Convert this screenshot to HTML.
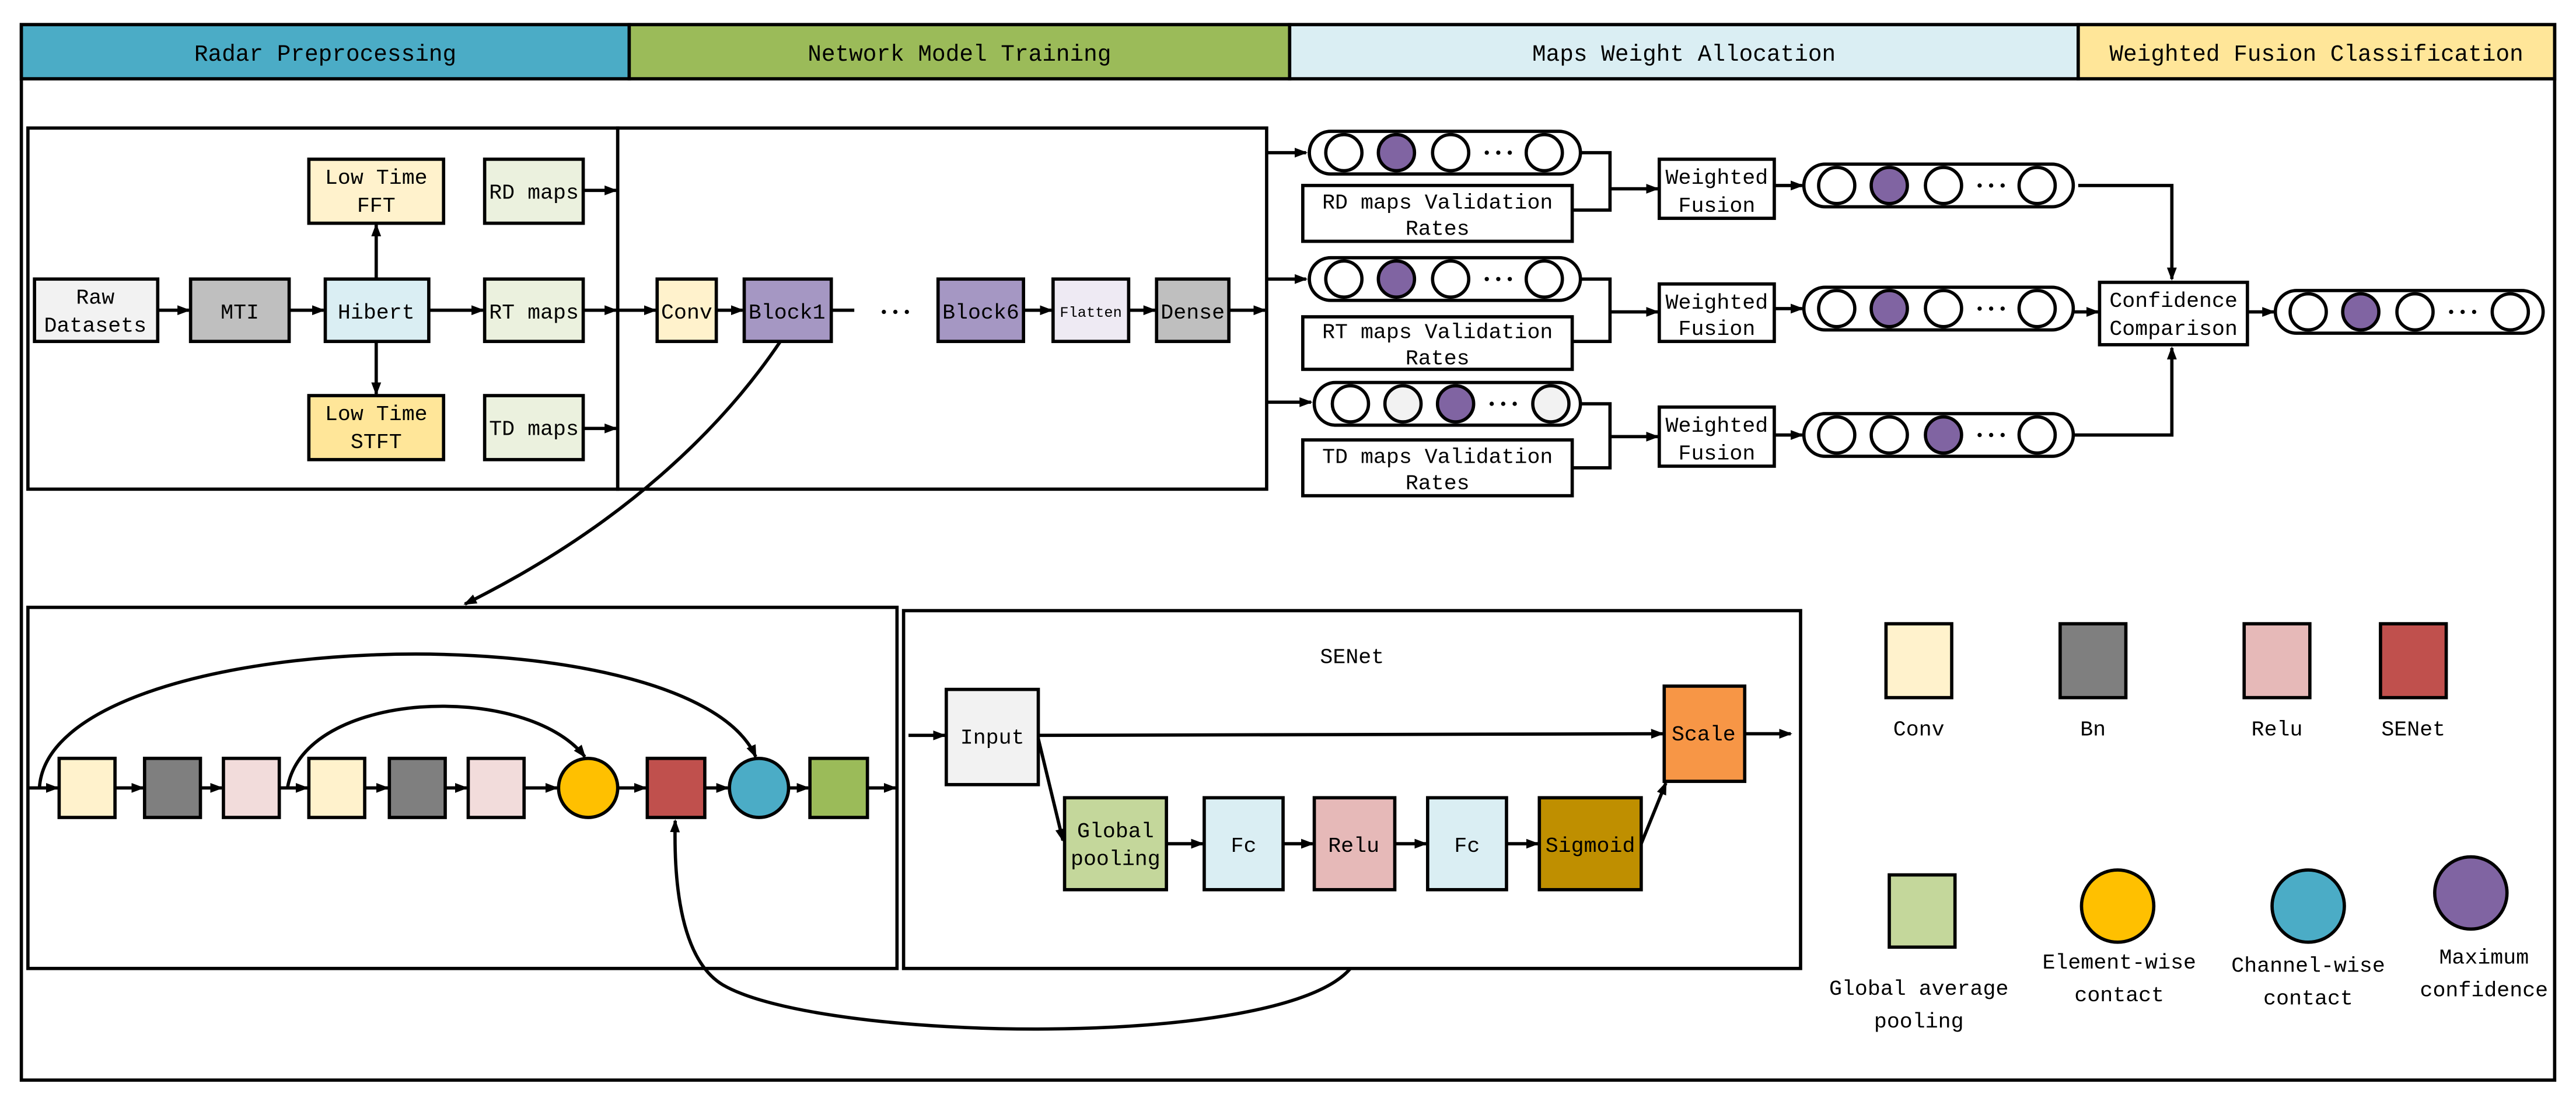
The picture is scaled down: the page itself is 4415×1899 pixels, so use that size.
<!DOCTYPE html>
<html><head><meta charset="utf-8"><style>html,body{margin:0;padding:0;background:#fff}svg{display:block}</style></head>
<body>
<svg width="4415" height="1899" viewBox="0 0 1568 675" preserveAspectRatio="none" xmlns="http://www.w3.org/2000/svg" font-family="'Liberation Mono','Noto Serif CJK SC',monospace" font-size="13" text-anchor="middle">
<defs>
<marker id="a" markerWidth="8" markerHeight="8" refX="7" refY="4" orient="auto" markerUnits="userSpaceOnUse"><path d="M0,1 L8,4 L0,7z" fill="#000"/></marker>
<g id="d"><circle cx="-7" cy="0" r="1.3"/><circle cx="0" cy="0" r="1.3"/><circle cx="7" cy="0" r="1.3"/></g>
</defs>
<rect x="0" y="0" width="1568" height="675" fill="#fff"/>
<g stroke="#000" stroke-width="2">
<rect x="13" y="15" width="1542" height="643" fill="none"/>
<rect x="13" y="15" width="370" height="33" fill="#4BACC6"/>
<rect x="383" y="15" width="402" height="33" fill="#9BBB59"/>
<rect x="785" y="15" width="480" height="33" fill="#DAEEF3"/>
<rect x="1265" y="15" width="290" height="33" fill="#FFE699"/>
<rect x="17" y="78" width="359" height="220" fill="none"/>
<rect x="376" y="78" width="395" height="220" fill="none"/>
<rect x="17" y="370" width="529" height="220" fill="none"/>
<rect x="550" y="372" width="546" height="218" fill="none"/>
</g>
<g font-size="14">
<text x="198" y="37">Radar Preprocessing</text>
<text x="584" y="37">Network Model Training</text>
<text x="1025" y="37">Maps Weight Allocation</text>
<text x="1410" y="37">Weighted Fusion Classification</text>
</g>
<g stroke="#000" stroke-width="2">
<rect x="21" y="170" width="75" height="38" fill="#F2F2F2"/>
<rect x="116" y="170" width="60" height="38" fill="#BFBFBF"/>
<rect x="198" y="170" width="63" height="38" fill="#DAEEF3"/>
<rect x="188" y="97" width="82" height="39" fill="#FFF2CC"/>
<rect x="188" y="241" width="82" height="39" fill="#FFE699"/>
<rect x="295" y="97" width="60" height="39" fill="#EBF1DE"/>
<rect x="295" y="170" width="60" height="38" fill="#EBF1DE"/>
<rect x="295" y="241" width="60" height="39" fill="#EBF1DE"/>
<rect x="400" y="170" width="36" height="38" fill="#FFF2CC"/>
<rect x="453" y="170" width="53" height="38" fill="#A597C3"/>
<rect x="571" y="170" width="52" height="38" fill="#A597C3"/>
<rect x="641" y="170" width="46" height="38" fill="#EEEAF3"/>
<rect x="704" y="170" width="44" height="38" fill="#BFBFBF"/>
</g>
<text x="58" y="185">Raw</text><text x="58" y="202">Datasets</text>
<text x="146" y="194">MTI</text>
<text x="229" y="194">Hibert</text>
<text x="229" y="112">Low Time</text><text x="229" y="129">FFT</text>
<text x="229" y="256">Low Time</text><text x="229" y="273">STFT</text>
<text x="325" y="121">RD maps</text>
<text x="325" y="194">RT maps</text>
<text x="325" y="265">TD maps</text>
<text x="418" y="194">Conv</text>
<text x="479" y="194">Block1</text>
<text x="597" y="194">Block6</text>
<text x="664" y="193" font-size="9">Flatten</text>
<text x="726" y="194">Dense</text>
<g stroke="#000" stroke-width="2" fill="none" marker-end="url(#a)">
<line x1="96" y1="189" x2="115" y2="189"/>
<line x1="176" y1="189" x2="197" y2="189"/>
<line x1="261" y1="189" x2="294" y2="189"/>
<line x1="229" y1="170" x2="229" y2="137"/>
<line x1="229" y1="208" x2="229" y2="240"/>
<line x1="355" y1="116" x2="375" y2="116"/>
<line x1="355" y1="189" x2="375" y2="189"/>
<line x1="355" y1="261" x2="375" y2="261"/>
<line x1="376" y1="189" x2="399" y2="189"/>
<line x1="436" y1="189" x2="452" y2="189"/>
<line x1="623" y1="189" x2="640" y2="189"/>
<line x1="687" y1="189" x2="703" y2="189"/>
<line x1="748" y1="189" x2="770" y2="189"/>
<line x1="771" y1="93" x2="795" y2="93"/>
<line x1="771" y1="170" x2="795" y2="170"/>
<line x1="771" y1="245" x2="798" y2="245"/>
<path d="M475,208 C440,260 380,320 283,368"/>
</g>
<line x1="506" y1="189" x2="520" y2="189" stroke="#000" stroke-width="2"/>
<use href="#d" x="545" y="190"/>
<g stroke="#000" stroke-width="2">
<rect x="797" y="80" width="165" height="26" rx="13" fill="#fff"/>
<circle cx="818" cy="93" r="11" fill="#fff"/><circle cx="850" cy="93" r="11" fill="#8064A2"/><circle cx="883" cy="93" r="11" fill="#fff"/><circle cx="940" cy="93" r="11" fill="#fff"/>
<rect x="797" y="157" width="165" height="26" rx="13" fill="#fff"/>
<circle cx="818" cy="170" r="11" fill="#fff"/><circle cx="850" cy="170" r="11" fill="#8064A2"/><circle cx="883" cy="170" r="11" fill="#fff"/><circle cx="940" cy="170" r="11" fill="#fff"/>
<rect x="800" y="233" width="162" height="26" rx="13" fill="#fff"/>
<circle cx="822" cy="246" r="11" fill="#fff"/><circle cx="854" cy="246" r="11" fill="#F2F2F2"/><circle cx="886" cy="246" r="11" fill="#8064A2"/><circle cx="944" cy="246" r="11" fill="#F2F2F2"/>
<rect x="1098" y="100" width="164" height="26" rx="13" fill="#fff"/>
<circle cx="1118" cy="113" r="11" fill="#fff"/><circle cx="1150" cy="113" r="11" fill="#8064A2"/><circle cx="1183" cy="113" r="11" fill="#fff"/><circle cx="1240" cy="113" r="11" fill="#fff"/>
<rect x="1098" y="175" width="164" height="26" rx="13" fill="#fff"/>
<circle cx="1118" cy="188" r="11" fill="#fff"/><circle cx="1150" cy="188" r="11" fill="#8064A2"/><circle cx="1183" cy="188" r="11" fill="#fff"/><circle cx="1240" cy="188" r="11" fill="#fff"/>
<rect x="1098" y="252" width="164" height="26" rx="13" fill="#fff"/>
<circle cx="1118" cy="265" r="11" fill="#fff"/><circle cx="1150" cy="265" r="11" fill="#fff"/><circle cx="1183" cy="265" r="11" fill="#8064A2"/><circle cx="1240" cy="265" r="11" fill="#fff"/>
<rect x="1385" y="177" width="163" height="26" rx="13" fill="#fff"/>
<circle cx="1405" cy="190" r="11" fill="#fff"/><circle cx="1437" cy="190" r="11" fill="#8064A2"/><circle cx="1470" cy="190" r="11" fill="#fff"/><circle cx="1528" cy="190" r="11" fill="#fff"/>
<rect x="793" y="113" width="164" height="34" fill="#fff"/>
<rect x="793" y="193" width="164" height="32" fill="#fff"/>
<rect x="793" y="268" width="164" height="34" fill="#fff"/>
<rect x="1010" y="97" width="70" height="36" fill="#fff"/>
<rect x="1010" y="173" width="70" height="35" fill="#fff"/>
<rect x="1010" y="248" width="70" height="36" fill="#fff"/>
<rect x="1278" y="172" width="90" height="38" fill="#fff"/>
</g>
<use href="#d" x="912" y="93"/><use href="#d" x="912" y="170"/><use href="#d" x="915" y="246"/>
<use href="#d" x="1212" y="113"/><use href="#d" x="1212" y="188"/><use href="#d" x="1212" y="265"/>
<use href="#d" x="1499" y="190"/>
<text x="875" y="127">RD maps Validation</text><text x="875" y="143">Rates</text>
<text x="875" y="206">RT maps Validation</text><text x="875" y="222">Rates</text>
<text x="875" y="282">TD maps Validation</text><text x="875" y="298">Rates</text>
<text x="1045" y="112">Weighted</text><text x="1045" y="129">Fusion</text>
<text x="1045" y="188">Weighted</text><text x="1045" y="204">Fusion</text>
<text x="1045" y="263">Weighted</text><text x="1045" y="280">Fusion</text>
<text x="1323" y="187">Confidence</text><text x="1323" y="204">Comparison</text>
<g stroke="#000" stroke-width="2" fill="none">
<path d="M962,93 H980 V128 H957"/>
<path d="M962,170 H980 V208 H957"/>
<path d="M962,246 H980 V285 H957"/>
</g>
<g stroke="#000" stroke-width="2" fill="none" marker-end="url(#a)">
<line x1="980" y1="115" x2="1009" y2="115"/>
<line x1="980" y1="190" x2="1009" y2="190"/>
<line x1="980" y1="266" x2="1009" y2="266"/>
<line x1="1080" y1="113" x2="1097" y2="113"/>
<line x1="1080" y1="188" x2="1097" y2="188"/>
<line x1="1080" y1="265" x2="1097" y2="265"/>
<path d="M1265,113 H1322 V170"/>
<line x1="1262" y1="190" x2="1277" y2="190"/>
<path d="M1262,265 H1322 V212"/>
<line x1="1368" y1="190" x2="1384" y2="190"/>
</g>
<g stroke="#000" stroke-width="2">
<rect x="36" y="462" width="34" height="36" fill="#FFF2CC"/>
<rect x="88" y="462" width="34" height="36" fill="#7F7F7F"/>
<rect x="136" y="462" width="34" height="36" fill="#F2DCDB"/>
<rect x="188" y="462" width="34" height="36" fill="#FFF2CC"/>
<rect x="237" y="462" width="34" height="36" fill="#7F7F7F"/>
<rect x="285" y="462" width="34" height="36" fill="#F2DCDB"/>
<circle cx="358" cy="480" r="18" fill="#FFC000"/>
<rect x="394" y="462" width="35" height="36" fill="#C0504D"/>
<circle cx="462" cy="480" r="18" fill="#4BACC6"/>
<rect x="493" y="462" width="35" height="36" fill="#9BBB59"/>
</g>
<g stroke="#000" stroke-width="2" fill="none" marker-end="url(#a)">
<line x1="17" y1="480" x2="35" y2="480"/>
<line x1="70" y1="480" x2="87" y2="480"/>
<line x1="122" y1="480" x2="135" y2="480"/>
<line x1="170" y1="480" x2="187" y2="480"/>
<line x1="222" y1="480" x2="236" y2="480"/>
<line x1="271" y1="480" x2="284" y2="480"/>
<line x1="319" y1="480" x2="339" y2="480"/>
<line x1="376" y1="480" x2="393" y2="480"/>
<line x1="429" y1="480" x2="443" y2="480"/>
<line x1="480" y1="480" x2="492" y2="480"/>
<line x1="528" y1="480" x2="545" y2="480"/>
<path d="M24,480 C30,380 420,370 460,461"/>
<path d="M175,480 C185,420 320,415 356,461"/>
<path d="M822,590 C780,640 500,635 440,600 C415,585 410,540 411,500"/>
</g>
<g stroke="#000" stroke-width="2">
<rect x="576" y="420" width="56" height="58" fill="#F2F2F2"/>
<rect x="1013" y="418" width="49" height="58" fill="#F79646"/>
<rect x="648" y="486" width="62" height="56" fill="#C4D79B"/>
<rect x="733" y="486" width="48" height="56" fill="#DAEEF3"/>
<rect x="800" y="486" width="49" height="56" fill="#E6B9B8"/>
<rect x="869" y="486" width="48" height="56" fill="#DAEEF3"/>
<rect x="937" y="486" width="62" height="56" fill="#BF8F00"/>
</g>
<text x="823" y="404">SENet</text>
<text x="604" y="453">Input</text>
<text x="1037" y="451">Scale</text>
<text x="679" y="510">Global</text><text x="679" y="527">pooling</text>
<text x="757" y="519">Fc</text>
<text x="824" y="519">Relu</text>
<text x="893" y="519">Fc</text>
<text x="968" y="519">Sigmoid</text>
<g stroke="#000" stroke-width="2" fill="none" marker-end="url(#a)">
<line x1="553" y1="448" x2="575" y2="448"/>
<line x1="632" y1="448" x2="1012" y2="447"/>
<line x1="632" y1="450" x2="647" y2="512"/>
<line x1="710" y1="514" x2="732" y2="514"/>
<line x1="781" y1="514" x2="799" y2="514"/>
<line x1="849" y1="514" x2="868" y2="514"/>
<line x1="917" y1="514" x2="936" y2="514"/>
<line x1="999" y1="514" x2="1014" y2="477"/>
<line x1="1062" y1="447" x2="1090" y2="447"/>
</g>
<g stroke="#000" stroke-width="2">
<rect x="1148" y="380" width="40" height="45" fill="#FFF2CC"/>
<rect x="1254" y="380" width="40" height="45" fill="#7F7F7F"/>
<rect x="1366" y="380" width="40" height="45" fill="#E6B9B8"/>
<rect x="1449" y="380" width="40" height="45" fill="#C0504D"/>
<rect x="1150" y="533" width="40" height="44" fill="#C4D79B"/>
<circle cx="1289" cy="552" r="22" fill="#FFC000"/>
<circle cx="1405" cy="552" r="22" fill="#4BACC6"/>
<circle cx="1504" cy="544" r="22" fill="#8064A2"/>
</g>
<text x="1168" y="448">Conv</text>
<text x="1274" y="448">Bn</text>
<text x="1386" y="448">Relu</text>
<text x="1469" y="448">SENet</text>
<text x="1168" y="606">Global average</text><text x="1168" y="626">pooling</text>
<text x="1290" y="590">Element-wise</text><text x="1290" y="610">contact</text>
<text x="1405" y="592">Channel-wise</text><text x="1405" y="612">contact</text>
<text x="1512" y="587">Maximum</text><text x="1512" y="607">confidence</text>
</svg>
</body></html>
